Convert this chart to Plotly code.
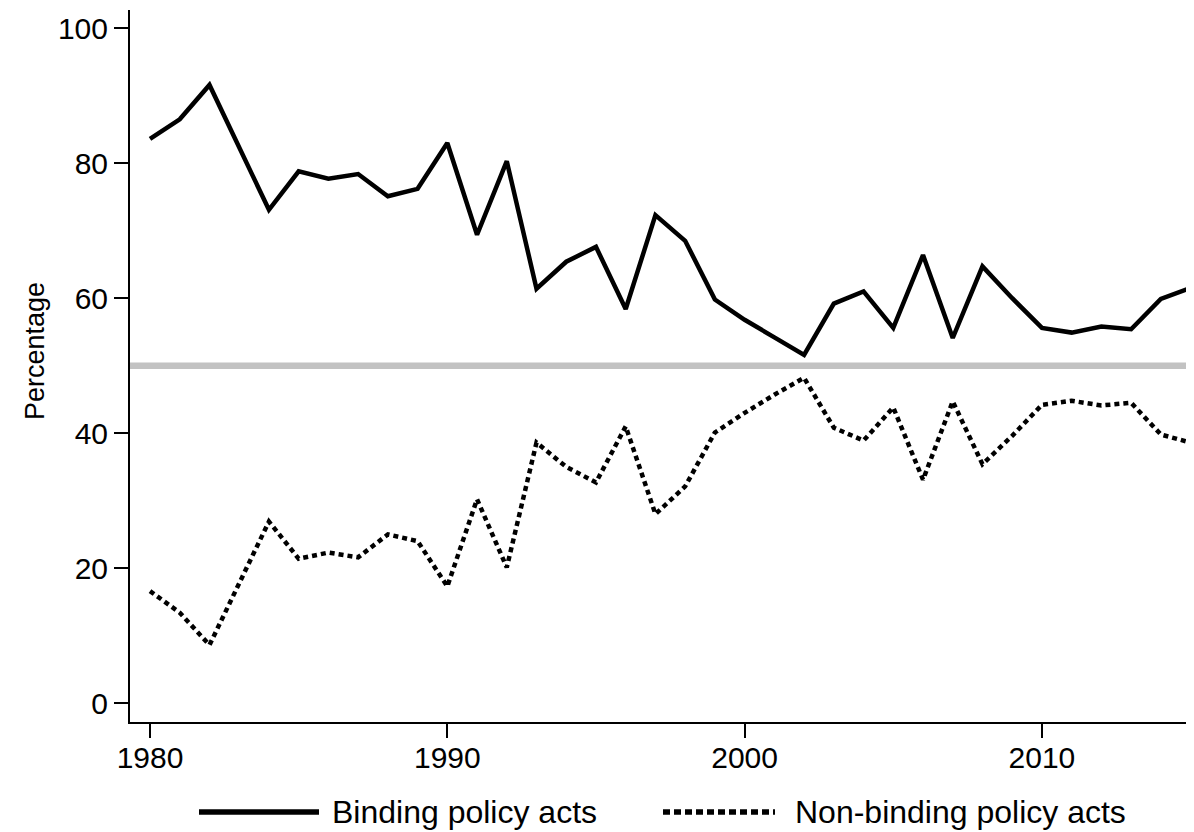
import plotly.graph_objects as go

years = list(range(1980, 2016))
binding = [83.6, 86.5, 91.6, 82.3, 73.1, 78.8, 77.7, 78.4, 75.1, 76.2,
           83.0, 69.4, 80.3, 61.4, 65.4, 67.6, 58.4, 72.3, 68.5, 59.8,
           56.8, 54.2, 51.6, 59.2, 61.0, 55.6, 66.4, 54.1, 64.7, 60.0,
           55.6, 54.9, 55.8, 55.4, 59.9, 61.5]
non_binding = [16.6, 13.4, 8.6, 17.7, 26.9, 21.4, 22.3, 21.6, 25.0, 24.0,
               17.3, 30.2, 20.1, 38.6, 35.0, 32.7, 41.0, 28.0, 32.1, 40.1,
               43.0, 45.7, 48.2, 40.8, 38.9, 43.8, 33.1, 44.7, 35.4, 39.6,
               44.2, 44.8, 44.1, 44.5, 39.8, 38.6]
series_names = ["Binding policy acts", "Non-binding policy acts"]
x_ticks = [1980, 1990, 2000, 2010]
y_ticks = [0, 20, 40, 60, 80, 100]
y_title = "Percentage"
reference_level = 50

FONT = "Liberation Sans, Arial, Helvetica, sans-serif"

fig = go.Figure()
fig.add_trace(go.Scatter(x=years, y=binding, mode="lines", name=series_names[0],
                         line=dict(color="black", width=4.5), showlegend=False))
fig.add_trace(go.Scatter(x=years, y=non_binding, mode="lines", name=series_names[1],
                         line=dict(color="black", width=4.5, dash="5px,4px"), showlegend=False))

# grey reference line at 50%
fig.add_shape(type="line", xref="paper", yref="y", x0=0, x1=1,
              y0=reference_level, y1=reference_level,
              line=dict(color="#c2c2c2", width=6.5), layer="below")

# page has an 8px body margin; figure sized so the plot lands where the reference has it
OFF = 8
W, H = 1194 - OFF, 832 - OFF
L, T, B = 130 - OFF, 10 - OFF, (832 - OFF) - (722 - OFF)
pw, ph = W - L, H - T - B

def px(xs):  # screen x -> paper
    return (xs - OFF - L) / pw

def py(ys):  # screen y -> paper
    return (H - B - (ys - OFF)) / ph

ly = 812
fig.add_shape(type="line", xref="paper", yref="paper", x0=px(199), x1=px(319),
              y0=py(ly), y1=py(ly), line=dict(color="black", width=5.5))
fig.add_shape(type="line", xref="paper", yref="paper", x0=px(663), x1=px(775),
              y0=py(ly), y1=py(ly), line=dict(color="black", width=5.5, dash="7px,4px"))
fig.add_annotation(xref="paper", yref="paper", x=px(330), y=py(ly), text=series_names[0],
                   showarrow=False, xanchor="left", yanchor="middle",
                   font=dict(family=FONT, size=32, color="black"))
fig.add_annotation(xref="paper", yref="paper", x=px(793), y=py(ly), text=series_names[1],
                   showarrow=False, xanchor="left", yanchor="middle",
                   font=dict(family=FONT, size=32, color="black"))
# y-axis title
fig.add_annotation(xref="paper", yref="paper", x=px(35), y=py(351), text=y_title,
                   textangle=-90, showarrow=False, xanchor="center", yanchor="middle",
                   font=dict(family=FONT, size=27, color="black"))

fig.update_layout(
    width=W, height=H,
    margin=dict(l=L, r=0, t=T, b=B),
    plot_bgcolor="white", paper_bgcolor="white",
    font=dict(family=FONT, color="black"),
    xaxis=dict(range=[1979.327, 2015.115], tickvals=x_ticks, ticks="outside",
               ticklen=14, tickwidth=1.5, tickcolor="black",
               showline=True, linecolor="black", linewidth=2,
               showgrid=False, zeroline=False, ticklabelstandoff=-6,
               tickfont=dict(size=30, family=FONT, color="black")),
    yaxis=dict(range=[-2.8, 102.7], tickvals=y_ticks, ticks="outside",
               ticklen=14, tickwidth=1.5, tickcolor="black",
               showline=True, linecolor="black", linewidth=2,
               showgrid=False, zeroline=False,
               tickfont=dict(size=30, family=FONT, color="black")),
)

fig.write_html("out.html")
